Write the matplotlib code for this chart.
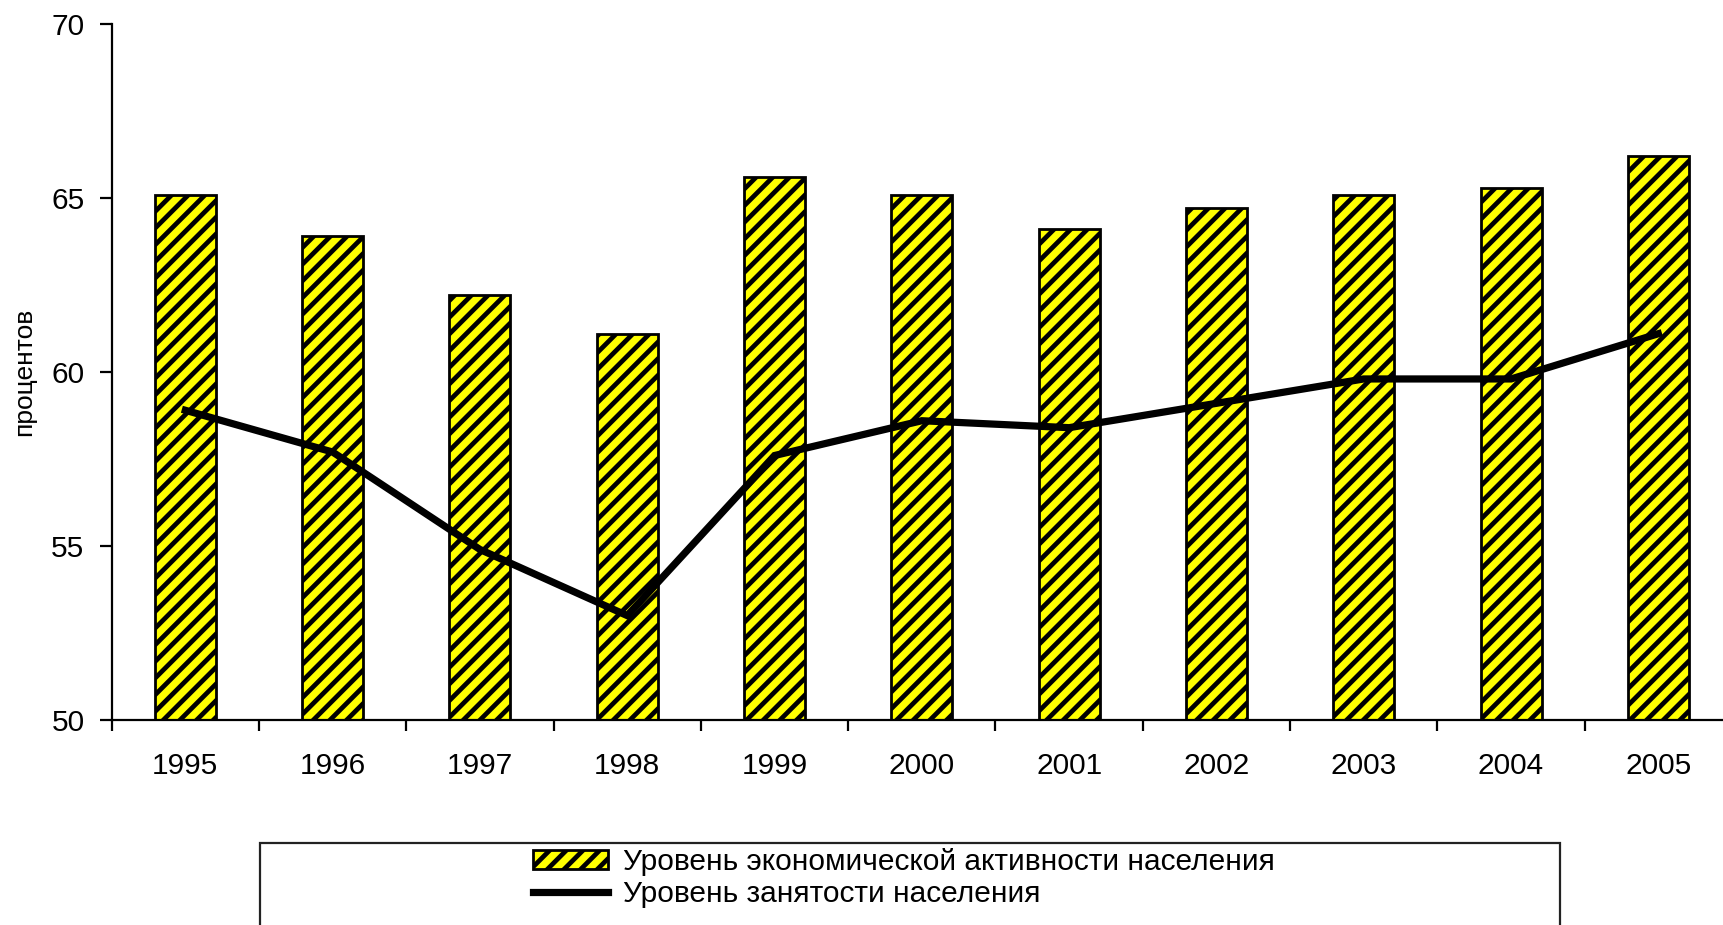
import matplotlib
matplotlib.use("Agg")
import matplotlib.pyplot as plt
from matplotlib.patches import Rectangle
import numpy as np

# Data: labour-force participation (bars) and employment rate (line), percent
years = ["1995", "1996", "1997", "1998", "1999", "2000",
         "2001", "2002", "2003", "2004", "2005"]
activity = [65.1, 63.9, 62.2, 61.1, 65.6, 65.1, 64.1, 64.7, 65.1, 65.3, 66.2]
employment = [58.9, 57.7, 54.9, 53.0, 57.6, 58.6, 58.4, 59.1, 59.8, 59.8, 61.1]
y_ticks = [50, 55, 60, 65, 70]

label_activity = "Уровень экономической активности населения"
label_employment = "Уровень занятости населения"
y_label = "процентов"

plt.rcParams["font.family"] = ["Liberation Sans", "DejaVu Sans"]
plt.rcParams["hatch.linewidth"] = 3.4
plt.rcParams["hatch.color"] = "black"

W, H = 1724, 925
fig = plt.figure(figsize=(W / 100, H / 100), dpi=100)
fig.patch.set_facecolor("white")

left_px, right_px, top_px, bottom_px = 111.7, 1732, 24, 720
ax = fig.add_axes([left_px / W, 1 - bottom_px / H,
                   (right_px - left_px) / W, (bottom_px - top_px) / H])

x = np.arange(len(years))
bars = ax.bar(x, activity, width=0.414, color="#FFFF00", edgecolor="black",
              linewidth=2.0, hatch="//", label=label_activity, zorder=2)
line, = ax.plot(x, employment, color="black", linewidth=5.2,
                label=label_employment, zorder=3, solid_joinstyle="miter")

ax.set_xlim(-0.5, len(years) - 0.5)
ax.set_ylim(y_ticks[0], y_ticks[-1])

for side in ("top", "right"):
    ax.spines[side].set_visible(False)
for side in ("left", "bottom"):
    ax.spines[side].set_linewidth(1.6)

ax.set_yticks(y_ticks)
ax.set_yticklabels([str(v) for v in y_ticks])
ax.tick_params(axis="y", direction="out", length=8.6, width=1.6,
               pad=11, labelsize=21.5)

ax.set_xticks(x)
ax.set_xticklabels(years)
ax.set_xticks(np.arange(-0.5, len(years), 1.0), minor=True)
ax.tick_params(axis="x", which="major", length=0, pad=23, labelsize=21.5)
ax.tick_params(axis="x", which="minor", direction="out", length=8, width=1.6)

fig.text(24 / W, 1 - 372 / H, y_label, rotation=90, ha="center",
         va="center", fontsize=19)

# Legend with a separate frame that runs off the lower edge
leg = fig.legend(handles=[bars, line], labels=[label_activity, label_employment],
                 loc="center", bbox_to_anchor=(904 / W, 1 - 878 / H),
                 bbox_transform=fig.transFigure, frameon=False, fontsize=21.5,
                 handlelength=2.5, handleheight=0.6, labelspacing=0.12,
                 handletextpad=0.5, borderpad=0)
fig.add_artist(Rectangle((260 / W, -0.1), 1300 / W, (H - 843) / H + 0.1,
                         transform=fig.transFigure, fill=False,
                         edgecolor="#222222", linewidth=1.6))

fig.savefig("out.png", dpi=100, facecolor="white")
